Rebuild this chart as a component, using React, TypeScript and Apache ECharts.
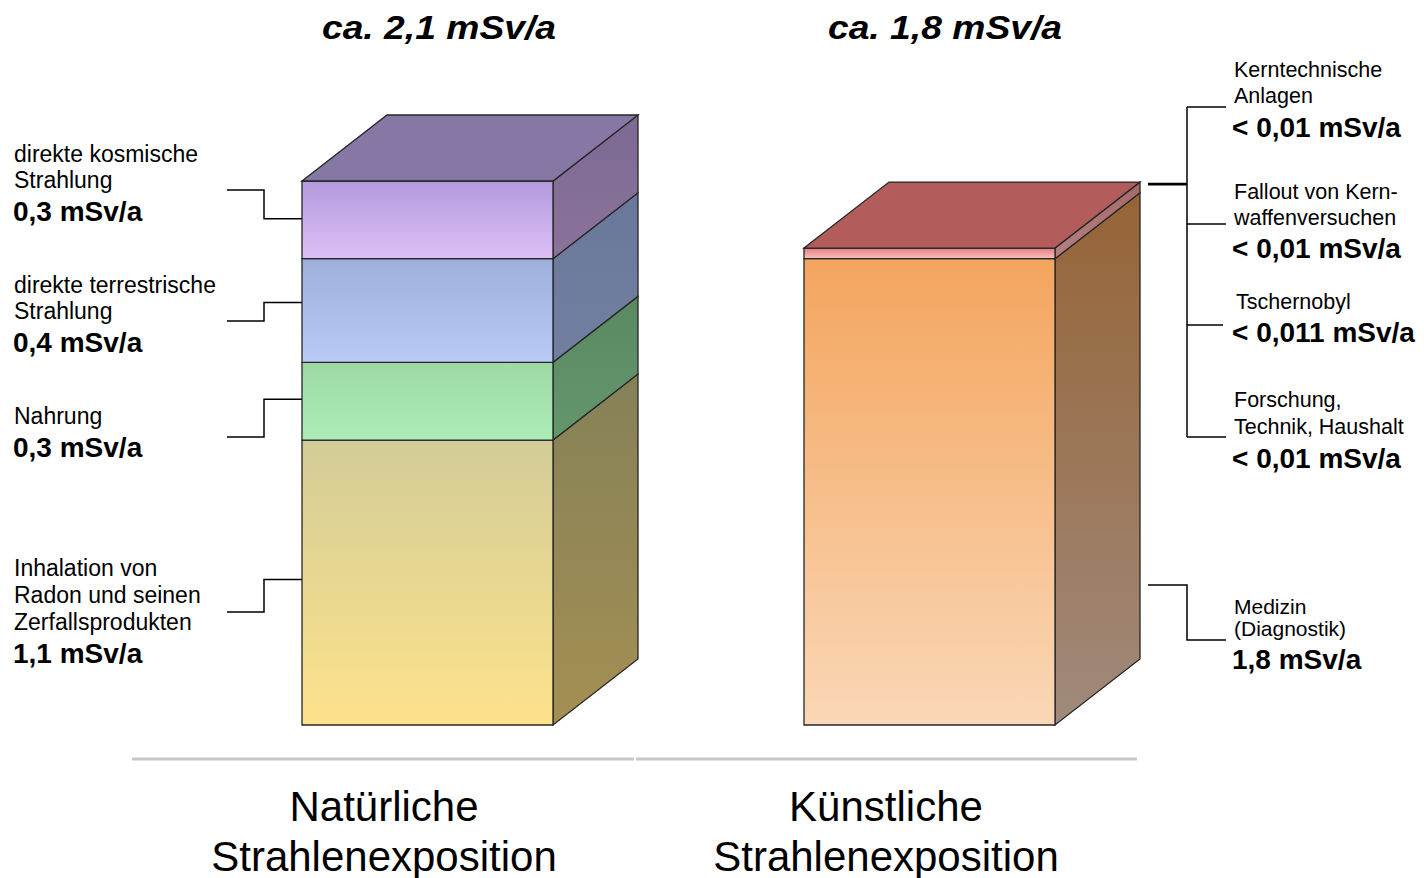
import React, { useEffect, useRef } from "react";
import * as echarts from "echarts";

// Categories and dose values (mSv/a)
const categories = ["Natürliche Strahlenexposition", "Künstliche Strahlenexposition"];

const naturalSources = [
  "Inhalation von Radon und seinen Zerfallsprodukten",
  "Nahrung",
  "direkte terrestrische Strahlung",
  "direkte kosmische Strahlung",
];
const naturalValues = [1.1, 0.3, 0.4, 0.3];

const medicalSource = "Medizin (Diagnostik)";
const medicalValue = 1.8;
const minorSources = [
  "Kerntechnische Anlagen",
  "Fallout von Kernwaffenversuchen",
  "Tschernobyl",
  "Forschung, Technik, Haushalt",
];
const minorValues = [0.01, 0.01, 0.011, 0.01];

const totalLabels = ["ca. 2,1 mSv/a", "ca. 1,8 mSv/a"];

// Face colours for each stacked block: front gradient, side gradient, top face
const palette = [
  { front: ["#d2cc97", "#fde28b"], side: ["#858157", "#a48f53"], top: "#8a7aa8" }, // Radon
  { front: ["#9dd9a5", "#acedb7"], side: ["#5a8962", "#64966c"], top: "#8a7aa8" }, // Nahrung
  { front: ["#9dafdb", "#bacaf7"], side: ["#69789a", "#737fa0"], top: "#8a7aa8" }, // terrestrisch
  { front: ["#b39adb", "#dcc0f6"], side: ["#7b6a93", "#8b739a"], top: "#8777a5" }, // kosmisch
  { front: ["#f3a55e", "#fad7b6"], side: ["#966436", "#a08a7b"], top: "#b35c5c" }, // Medizin
  { front: ["#e47c7e", "#f9c2c2"], side: ["#a5696a", "#b38081"], top: "#b35c5c" }, // sonstige
];

const DEPTH_X = 85;
const DEPTH_Y = 66;
const EDGE = "#262626";
const FONT = "'Liberation Sans', Arial, sans-serif";

// Stacked blocks: [category, from, to, paletteIndex, isTop]
function buildBlocks() {
  const blocks: number[][] = [];
  let acc = 0;
  naturalValues.forEach((v, i) => {
    blocks.push([0, acc, acc + v, i, i === naturalValues.length - 1 ? 1 : 0]);
    acc += v;
  });
  const minorSum = minorValues.reduce((a, b) => a + b, 0);
  blocks.push([1, 0, medicalValue, 4, 0]);
  blocks.push([1, medicalValue, medicalValue + minorSum, 5, 1]);
  return blocks;
}

const grad = (c: string[]) =>
  new echarts.graphic.LinearGradient(0, 0, 0, 1, [
    { offset: 0, color: c[0] },
    { offset: 1, color: c[1] },
  ]);

function renderBlock(params: any, api: any) {
  const cat = api.value(0);
  const lo = api.value(1);
  const hi = api.value(2);
  const p = palette[api.value(3)];
  const isTop = api.value(4) === 1;
  const [xc, yLo] = api.coord([cat, lo]);
  const yHi = api.coord([cat, hi])[1];
  const w = api.size([1, 0])[0] * 0.5;
  const x0 = xc - w / 2;
  const x1 = xc + w / 2;
  const children: any[] = [
    {
      type: "polygon",
      shape: {
        points: [
          [x1, yHi],
          [x1 + DEPTH_X, yHi - DEPTH_Y],
          [x1 + DEPTH_X, yLo - DEPTH_Y],
          [x1, yLo],
        ],
      },
      style: { fill: grad(p.side), stroke: EDGE, lineWidth: 1.3 },
    },
    {
      type: "rect",
      shape: { x: x0, y: yHi, width: w, height: yLo - yHi },
      style: { fill: grad(p.front), stroke: EDGE, lineWidth: 1.3 },
    },
  ];
  if (isTop) {
    children.push({
      type: "polygon",
      shape: {
        points: [
          [x0, yHi],
          [x0 + DEPTH_X, yHi - DEPTH_Y],
          [x1 + DEPTH_X, yHi - DEPTH_Y],
          [x1, yHi],
        ],
      },
      style: { fill: p.top, stroke: EDGE, lineWidth: 1.3 },
    });
  }
  return { type: "group", children };
}

const txt = (text: string, x: number, y: number, size: number, bold = false, extra: any = {}) => ({
  type: "text",
  x,
  y,
  silent: true,
  ...extra,
  style: {
    text,
    x: 0,
    y: 0,
    fill: "#000",
    fontFamily: FONT,
    fontSize: size,
    fontWeight: bold ? "bold" : "normal",
    verticalAlign: "middle",
    align: "left",
    ...(extra.style || {}),
  },
});

const line = (pts: number[][], width = 1.5) => ({
  type: "polyline",
  silent: true,
  shape: { points: pts },
  style: { stroke: "#000", lineWidth: width, fill: "none" },
});

export default function App() {
  const ref = useRef<HTMLDivElement>(null);

  useEffect(() => {
    if (!ref.current) return;
    const chart = echarts.init(ref.current, undefined, { renderer: "svg" });
    const blocks = buildBlocks();

    chart.setOption({
      animation: false,
      backgroundColor: "#ffffff",
      grid: { left: 176.5, right: 243.5, top: 181, bottom: 153 },
      xAxis: { type: "category", data: categories, show: false },
      yAxis: { type: "value", min: 0, max: 2.1, show: false },
      series: [
        {
          type: "custom",
          renderItem: renderBlock,
          encode: { x: 0, y: [1, 2] },
          data: blocks,
          clip: false,
        },
      ],
    });

    // Annotation layer, anchored to the stacked blocks
    const px = (cat: number, v: number) =>
      chart.convertToPixel({ xAxisIndex: 0, yAxisIndex: 0 }, [cat, v]) as number[];
    const frontLeft = px(0, 0)[0] - 125.5;
    const mid = (a: number, b: number) => (px(0, a)[1] + px(0, b)[1]) / 2;
    let acc = 0;
    const naturalMid = naturalValues.map((v) => {
      const m = mid(acc, acc + v);
      acc += v;
      return m;
    });
    const fmt = (v: number) => v.toFixed(1).replace(".", ",") + " mSv/a";

    const leftText: any[] = [];
    const leftSpecs = [
      { lines: ["Inhalation von", "Radon und seinen", "Zerfallsprodukten"], ys: [568, 595, 622], vy: 653, ly: 612, off: -3 },
      { lines: ["Nahrung"], ys: [416], vy: 447, ly: 437, off: -2 },
      { lines: ["direkte terrestrische", "Strahlung"], ys: [285, 311], vy: 342, ly: 321, off: -8 },
      { lines: ["direkte kosmische", "Strahlung"], ys: [154, 180], vy: 211, ly: 190, off: -1 },
    ];
    leftSpecs.forEach((s, i) => {
      s.lines.forEach((l, j) => leftText.push(txt(l, 14, s.ys[j], 23)));
      leftText.push(txt(fmt(naturalValues[i]), 13, s.vy, 28, true));
      const by = naturalMid[i] + s.off;
      leftText.push(line([[227, s.ly], [264, s.ly], [264, by], [frontLeft, by]]));
    });

    const rightBackX = px(1, 0)[0] + 125.5 + DEPTH_X;
    const topBackY = px(1, medicalValue + minorValues.reduce((a, b) => a + b, 0))[1] - DEPTH_Y;
    const lx = rightBackX + 8;
    const vx = 1187;
    const rx = 1232;
    const minorLabel = (v: number) => "< " + String(v).replace(".", ",") + " mSv/a";
    const rightText: any[] = [
      line([[lx, topBackY + 2], [vx, topBackY + 2]], 2.6),
      line([[vx, 107], [vx, 437]]),
      line([[vx, 107], [1226, 107]]),
      line([[vx, 224], [1226, 224]]),
      line([[vx, 325], [1223, 325]]),
      line([[vx, 437], [1226, 437]]),
      txt("Kerntechnische", rx + 2, 70, 21.5),
      txt("Anlagen", rx + 2, 96, 21.5),
      txt(minorLabel(minorValues[0]), rx, 127, 28, true),
      txt("Fallout von Kern-", rx + 2, 192, 21.5),
      txt("waffenversuchen", rx + 2, 218, 21.5),
      txt(minorLabel(minorValues[1]), rx, 248, 28, true),
      txt("Tschernobyl", rx + 4, 302, 21.5),
      txt(minorLabel(minorValues[2]), rx, 332, 28, true),
      txt("Forschung,", rx + 2, 400, 21.5),
      txt("Technik, Haushalt", rx + 2, 427, 21.5),
      txt(minorLabel(minorValues[3]), rx, 458, 28, true),
      line([[lx, 585], [vx, 585], [vx, 640], [1226, 640]]),
      txt("Medizin", rx + 2, 606, 21),
      txt("(Diagnostik)", rx + 2, 628, 21),
      txt(fmt(medicalValue), rx, 659, 28, true),
    ];

    const titleFor = (i: number, cx: number) =>
      txt(totalLabels[i], cx, 27, 33, true, {
        scaleX: 1.13,
        style: { align: "center", fontStyle: "italic" },
      });

    const bottomLabels: any[] = [];
    const bottomCenters = [384, 886];
    categories.forEach((c, i) => {
      const parts = c.split(" ");
      bottomLabels.push(txt(parts[0], bottomCenters[i], 806, 42, false, { style: { align: "center" } }));
      bottomLabels.push(txt(parts[1], bottomCenters[i], 856, 42, false, { style: { align: "center" } }));
    });

    chart.setOption({
      graphic: [
        titleFor(0, 439),
        titleFor(1, 945),
        {
          type: "line",
          silent: true,
          shape: { x1: 132, y1: 759, x2: 634, y2: 759 },
          style: { stroke: "#c7c7c7", lineWidth: 3 },
        },
        {
          type: "line",
          silent: true,
          shape: { x1: 636, y1: 759, x2: 1137, y2: 759 },
          style: { stroke: "#c7c7c7", lineWidth: 3 },
        },
        ...leftText,
        ...rightText,
        ...bottomLabels,
      ],
    });

    return () => chart.dispose();
  }, []);

  return (
    <div
      ref={ref}
      style={{ position: "fixed", left: 0, top: 0, width: 1424, height: 878, background: "#fff" }}
    />
  );
}
